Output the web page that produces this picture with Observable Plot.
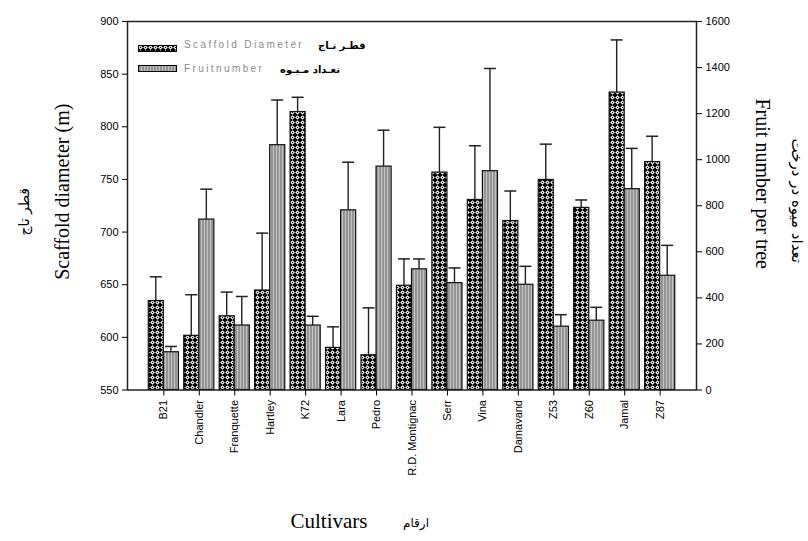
<!DOCTYPE html>
<html>
<head>
<meta charset="utf-8">
<script src="https://cdn.jsdelivr.net/npm/d3@7"></script>
<script src="https://cdn.jsdelivr.net/npm/@observablehq/plot@0.6"></script>
<style>
  body { margin: 0; background: white; }
  #wrap { position: relative; width: 808px; height: 541px; }
  .lg { position: absolute; white-space: nowrap; }
  .en { font-family: "Liberation Sans", Arial, sans-serif; font-size: 10px; color: #8c8c8c; letter-spacing: 2.4px; line-height: 12px; }
  .fa { font-family: "DejaVu Sans", sans-serif; font-size: 10px; color: #000; line-height: 12px; font-weight: bold; }
</style>
</head>
<body>
<svg width="0" height="0" style="position:absolute">
  <defs>
    <pattern id="pS" patternUnits="userSpaceOnUse" width="5" height="5">
      <rect width="5" height="5" fill="#000"/>
      <polygon points="2.5,0.2 4.8,2.5 2.5,4.8 0.2,2.5" fill="#fff"/>
      <rect x="1.9" y="1.9" width="1.2" height="1.2" fill="#000"/>
    </pattern>
    <pattern id="pF" patternUnits="userSpaceOnUse" width="3" height="3">
      <rect width="3" height="3" fill="#949494"/>
      <rect x="0" width="1" height="3" fill="#c4c4c4"/>
    </pattern>
  </defs>
</svg>
<div id="wrap">
  <div id="chart"></div>
  <svg class="lg" style="left:138px; top:45px" width="39" height="7"><rect x="0.5" y="0.5" width="38" height="6" fill="url(#pS)" stroke="#000"/></svg>
  <div class="lg en" style="left:184px; top:39px">Scaffold Diameter</div>
  <div class="lg fa" style="left:318px; top:40px">قطـر تـاج</div>
  <svg class="lg" style="left:138px; top:65px" width="39" height="7"><rect x="0.5" y="0.5" width="38" height="6" fill="url(#pF)" stroke="#000"/></svg>
  <div class="lg en" style="left:184px; top:63px">Fruitnumber</div>
  <div class="lg fa" style="left:280px; top:64px">تعـداد مـیـوه</div>
</div>
<script>
const cultivars = ["B21","Chandler","Franquette","Hartley","K72","Lara","Pedro","R.D. Montignac","Serr","Vina","Damavand","Z53","Z60","Jamal","Z87"];
const scaffold    = [634.5, 601.5, 620, 644.5, 814, 590, 583, 649, 756.5, 730.5, 710.5, 749.5, 723, 832.5, 766.5];
const scaffoldErr = [23, 39, 23, 54.5, 14, 20, 45, 25.5, 43, 51.5, 28.5, 34, 7.5, 50, 24.5];
const fruit       = [164, 740, 280, 1063, 280, 780, 970, 524, 464, 950, 457, 275, 301, 872, 496];
const fruitErr    = [25, 132, 126, 196, 40, 209, 158, 45, 66, 446, 80, 52, 58, 177, 132];
const leftTicks = [550, 600, 650, 700, 750, 800, 850, 900];
const rightTicks = [0, 200, 400, 600, 800, 1000, 1200, 1400, 1600];

const W = 808, H = 541, mL = 127, mR = 112, mT = 21, mB = 151.5;
const yMin = 550, yMax = 900, fMax = 1600;
const fy = f => yMin + f * (yMax - yMin) / fMax;   // fruit -> left scale
const fInv = v => String(Math.round((v - yMin) * fMax / (yMax - yMin)));

const rows = cultivars.map((c, i) => ({c, s: scaffold[i], se: scaffoldErr[i], f: fruit[i], fe: fruitErr[i]}));

const pI = 0.15, pO = 0.6;
const BW = d3.scaleBand().domain(cultivars).range([mL, W - mR]).paddingInner(pI).paddingOuter(pO).bandwidth();
const half = BW / 2;
const stemW = 1.4, capW = 12;
const stem = o => ({insetLeft: o - stemW / 2, insetRight: BW - o - stemW / 2});
const cap = o => ({insetLeft: o - capW / 2, insetRight: BW - o - capW / 2});
const oS = half / 2, oF = half + half / 2;
const serif = "'Liberation Serif', 'Times New Roman', serif";
const arabic = "'DejaVu Sans', sans-serif";

const chart = Plot.plot({
  width: W, height: H,
  marginLeft: mL, marginRight: mR, marginTop: mT, marginBottom: mB,
  style: {fontFamily: "'Liberation Sans', Arial, sans-serif", fontSize: "11px", color: "black", background: "white"},
  x: {domain: cultivars, paddingInner: pI, paddingOuter: pO, round: false},
  y: {domain: [yMin, yMax]},
  marks: [
    // error stems & caps
    Plot.barY(rows, {x: "c", y1: "s", y2: d => d.s + d.se, fill: "#222", ...stem(oS)}),
    Plot.tickY(rows, {x: "c", y: d => d.s + d.se, stroke: "#222", strokeWidth: 1.5, ...cap(oS)}),
    Plot.barY(rows, {x: "c", y1: d => fy(d.f), y2: d => fy(d.f + d.fe), fill: "#222", ...stem(oF)}),
    Plot.tickY(rows, {x: "c", y: d => fy(d.f + d.fe), stroke: "#222", strokeWidth: 1.5, ...cap(oF)}),
    // bars
    Plot.barY(rows, {x: "c", y1: yMin, y2: "s", insetRight: half, fill: "url(#pS)", stroke: "#111", strokeWidth: 1.2}),
    Plot.barY(rows, {x: "c", y1: yMin, y2: d => fy(d.f), insetLeft: half, fill: "url(#pF)", stroke: "#111", strokeWidth: 1.2}),
    Plot.frame({stroke: "#222", strokeWidth: 1.5}),
    Plot.axisY(leftTicks, {anchor: "left", label: null, tickSize: 5, tickPadding: 4}),
    Plot.axisY(rightTicks.map(fy), {anchor: "right", label: null, tickSize: 5, tickPadding: 4, tickFormat: fInv}),
    Plot.axisX({anchor: "bottom", label: null, tickRotate: -90, tickSize: 6, tickPadding: 4}),
    // axis titles
    Plot.text(["Scaffold diameter (m)"], {frameAnchor: "left", textAnchor: "middle", lineAnchor: "middle", dx: -65, dy: -14, rotate: -90, fontSize: 20, fontFamily: serif}),
    Plot.text(["قطر تاج"], {frameAnchor: "left", textAnchor: "middle", lineAnchor: "middle", dx: -103, dy: 6, rotate: -90, fontSize: 14, fontFamily: arabic}),
    Plot.text(["Fruit number per tree"], {frameAnchor: "right", textAnchor: "middle", lineAnchor: "middle", dx: 66, dy: -22, rotate: 90, fontSize: 20, fontFamily: serif}),
    Plot.text(["تعداد میوه در درخت"], {frameAnchor: "right", textAnchor: "middle", lineAnchor: "middle", dx: 100, dy: -5, rotate: 90, fontSize: 15, fontFamily: arabic}),
    Plot.text(["Cultivars"], {frameAnchor: "bottom", textAnchor: "middle", lineAnchor: "middle", dx: -83, dy: 131, fontSize: 21, fontFamily: serif}),
    Plot.text(["ارقام"], {frameAnchor: "bottom", textAnchor: "middle", lineAnchor: "middle", dx: 4, dy: 133, fontSize: 12, fontFamily: arabic})
  ]
});
document.getElementById("chart").appendChild(chart);
</script>
</body>
</html>
